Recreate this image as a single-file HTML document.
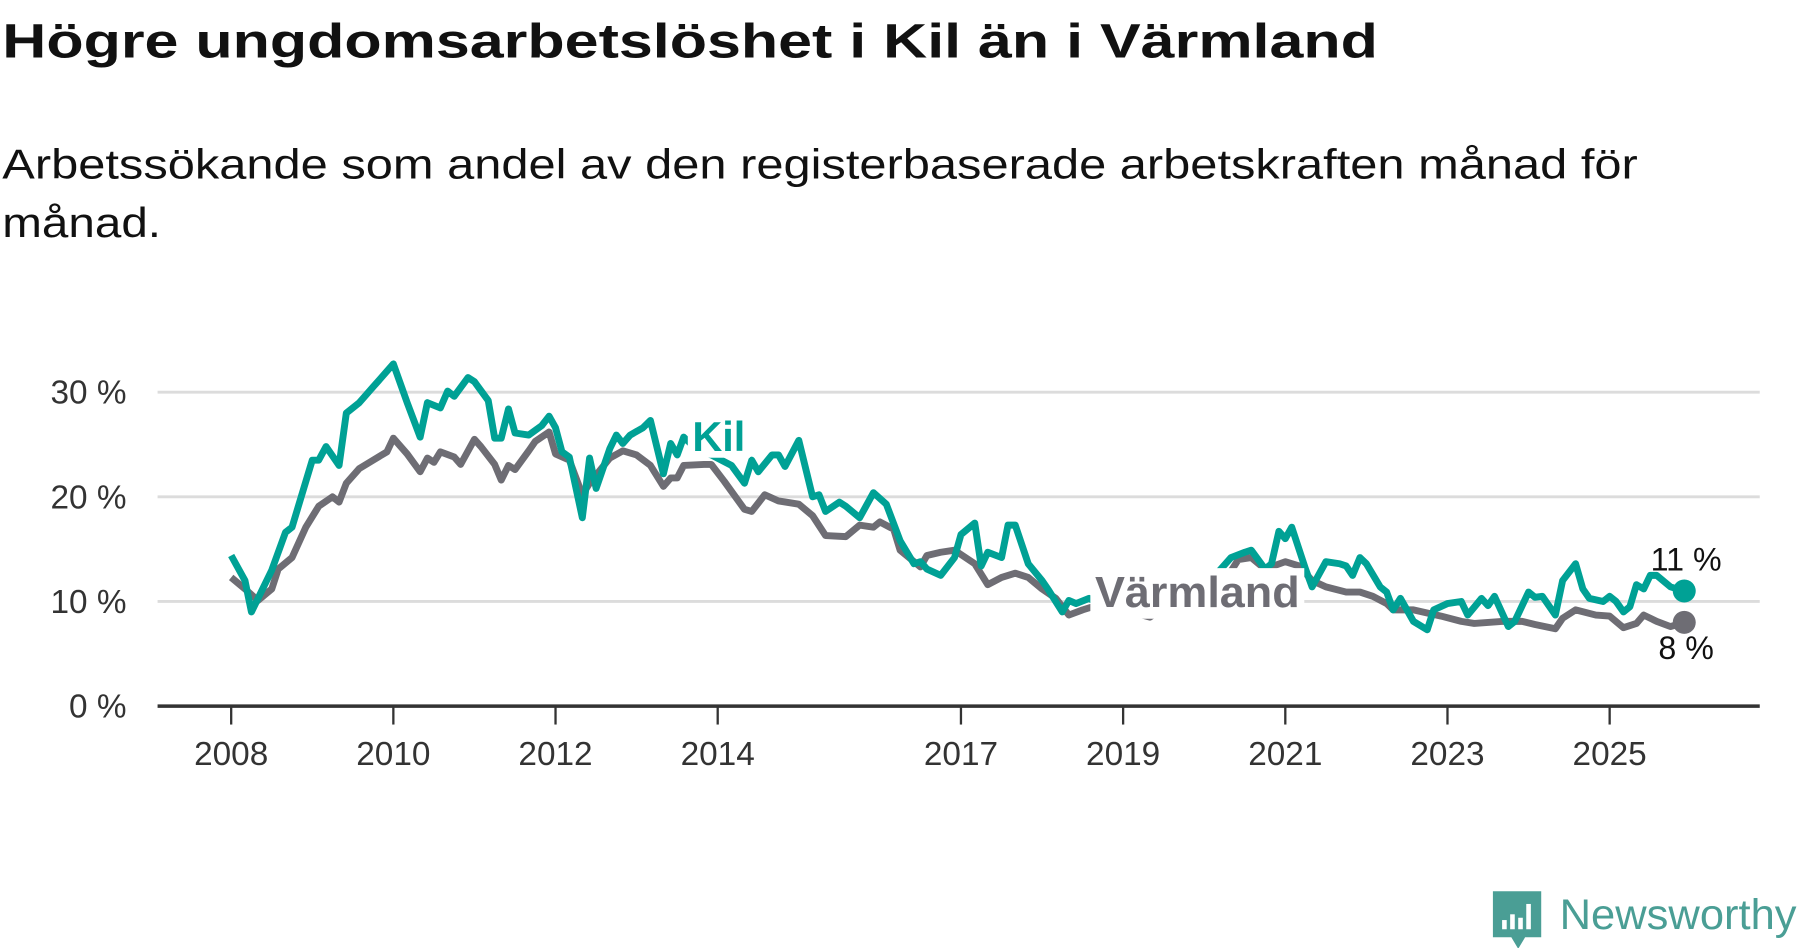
<!DOCTYPE html>
<html><head><meta charset="utf-8"><style>
html,body{margin:0;padding:0;background:#fff;}
svg{display:block;font-family:"Liberation Sans",sans-serif;}
</style></head><body>
<svg id="chart" width="1800" height="948" viewBox="0 0 1565 824.3" preserveAspectRatio="none" xmlns="http://www.w3.org/2000/svg">
<text x="2" y="50" font-size="42" font-weight="bold" fill="#111" textLength="1196" lengthAdjust="spacingAndGlyphs">Högre ungdomsarbetslöshet i Kil än i Värmland</text>
<text x="2" y="155" font-size="36" fill="#111" textLength="1422" lengthAdjust="spacingAndGlyphs">Arbetssökande som andel av den registerbaserade arbetskraften månad för</text>
<text x="2" y="206" font-size="36" fill="#111" textLength="138" lengthAdjust="spacingAndGlyphs">månad.</text>
<g id="grid"></g>
<g id="yaxis"></g>
<g id="xaxis"></g>
<g id="series"></g>
<g id="labels"></g>
<g>
<path d="M1298 775 h42 v40 h-14 l-6 10 l-6 -10 h-16 z" fill="#4a9e95"/>
<rect x="1306" y="800" width="4" height="8" fill="#fff"/><rect x="1313" y="795" width="4" height="13" fill="#fff"/><rect x="1320" y="798" width="4" height="10" fill="#fff"/><rect x="1327" y="786" width="4" height="22" fill="#fff"/>
<text x="1356" y="808" font-size="37" fill="#4a9e95" textLength="206" lengthAdjust="spacingAndGlyphs">Newsworthy</text>
</g>
</svg>
<script>
const yTicks = [0, 10, 20, 30];
const yTickLabels = ["0 %", "10 %", "20 %", "30 %"];
const xTicks = [2008, 2010, 2012, 2014, 2017, 2019, 2021, 2023, 2025];
const kilDates = [2008.00,2008.17,2008.25,2008.5,2008.67,2008.75,2009.0,2009.08,2009.17,2009.33,2009.42,2009.58,2009.75,2009.83,2010.0,2010.17,2010.33,2010.42,2010.58,2010.67,2010.75,2010.92,2011.0,2011.17,2011.25,2011.33,2011.42,2011.5,2011.67,2011.83,2011.92,2012.0,2012.08,2012.17,2012.33,2012.42,2012.5,2012.67,2012.75,2012.83,2012.92,2013.08,2013.17,2013.33,2013.42,2013.5,2013.58,2013.75,2013.92,2014.17,2014.33,2014.42,2014.5,2014.67,2014.75,2014.83,2015.0,2015.17,2015.25,2015.33,2015.5,2015.58,2015.75,2015.92,2016.08,2016.25,2016.42,2016.5,2016.58,2016.75,2016.92,2017.0,2017.17,2017.25,2017.33,2017.5,2017.58,2017.67,2017.83,2018.0,2018.08,2018.25,2018.33,2018.42,2018.58,2018.83,2019.0,2019.17,2019.5,2019.83,2020.08,2020.33,2020.5,2020.58,2020.75,2020.83,2020.92,2021.0,2021.08,2021.25,2021.33,2021.5,2021.67,2021.75,2021.83,2021.92,2022.0,2022.17,2022.25,2022.33,2022.42,2022.58,2022.75,2022.83,2023.0,2023.17,2023.25,2023.42,2023.5,2023.58,2023.75,2023.83,2024.0,2024.08,2024.17,2024.33,2024.42,2024.58,2024.67,2024.75,2024.92,2025.0,2025.08,2025.17,2025.25,2025.33,2025.42,2025.5,2025.58,2025.75,2025.92];
const kilValues = [14.4,12,9.0,13,16.6,17.1,23.5,23.5,24.8,23,28,29,30.5,31.2,32.7,29,25.7,29,28.5,30.1,29.6,31.4,31,29.2,25.6,25.6,28.4,26.1,25.9,26.8,27.7,26.6,24.3,23.8,18,23.7,20.8,24.6,25.9,25.1,25.9,26.6,27.3,22.2,25.1,24,25.7,24.5,24,23,21.3,23.5,22.4,24,24,22.9,25.4,20,20.2,18.6,19.5,19.1,18,20.4,19.3,15.8,13.6,13.8,13.1,12.5,14.2,16.4,17.5,13.4,14.7,14.2,17.3,17.3,13.6,12,11.1,9,10.1,9.8,10.3,9.3,9.8,9.0,9.5,10.5,12,14.2,14.7,14.9,13.1,13.6,16.7,16,17.1,13.1,11.4,13.8,13.6,13.4,12.5,14.2,13.6,11.4,10.9,9.2,10.3,8.1,7.3,9.2,9.8,10,8.7,10.3,9.6,10.5,7.6,8.1,10.9,10.4,10.5,8.7,12,13.6,11.2,10.3,10,10.5,10,9,9.5,11.6,11.2,12.5,12.5,11.4,11];
const varmDates = [2008.0,2008.17,2008.33,2008.5,2008.58,2008.75,2008.92,2009.08,2009.25,2009.33,2009.42,2009.58,2009.75,2009.92,2010.0,2010.17,2010.33,2010.42,2010.5,2010.58,2010.75,2010.83,2011.0,2011.08,2011.25,2011.33,2011.42,2011.5,2011.67,2011.75,2011.92,2012.0,2012.17,2012.33,2012.42,2012.67,2012.83,2013.0,2013.17,2013.33,2013.42,2013.5,2013.58,2013.83,2013.92,2014.08,2014.33,2014.42,2014.58,2014.75,2015.0,2015.17,2015.33,2015.58,2015.75,2015.92,2016.0,2016.17,2016.25,2016.5,2016.58,2016.75,2016.92,2017.17,2017.33,2017.5,2017.67,2017.83,2018.0,2018.17,2018.33,2018.5,2018.67,2018.92,2019.08,2019.33,2019.58,2019.83,2020.08,2020.33,2020.42,2020.58,2020.75,2021.0,2021.17,2021.33,2021.5,2021.75,2021.92,2022.08,2022.25,2022.33,2022.58,2022.75,2022.92,2023.17,2023.33,2023.5,2023.67,2023.92,2024.08,2024.33,2024.42,2024.58,2024.83,2025.0,2025.17,2025.33,2025.42,2025.58,2025.75,2025.92];
const varmValues = [12.3,11.2,10.1,11.2,13.1,14.2,17.1,19.1,20,19.5,21.3,22.7,23.5,24.3,25.6,24.1,22.4,23.7,23.3,24.3,23.8,23.1,25.5,24.8,23.1,21.6,23,22.6,24.4,25.3,26.2,24.1,23.5,20.2,21.3,23.7,24.4,24,23,21,21.8,21.8,23,23.1,23.1,21.5,18.8,18.6,20.2,19.6,19.3,18.2,16.3,16.2,17.3,17.1,17.6,16.9,14.9,13.3,14.4,14.7,14.9,13.6,11.6,12.3,12.7,12.3,11.2,10.3,8.7,9.2,9.6,9.4,9.0,8.5,9.8,11,12.3,12.9,14,14.2,13.1,13.8,13.4,12,11.4,10.9,10.9,10.5,9.8,9.2,9.2,8.9,8.6,8.1,7.9,8,8.1,8.1,7.8,7.4,8.4,9.2,8.7,8.6,7.5,7.9,8.7,8.1,7.6,8];

const NS = "http://www.w3.org/2000/svg";
const X0 = 137, X1 = 1530;
function xS(t){ return 201 + (t - 2008) * 70.5; }
function yS(v){ return 614 - v * 9.1; }
function mk(tag, attrs, parent){ const e = document.createElementNS(NS, tag); for (const k in attrs) e.setAttribute(k, attrs[k]); parent.appendChild(e); return e; }

const grid = document.getElementById('grid'), yax = document.getElementById('yaxis'), xax = document.getElementById('xaxis');
yTicks.forEach((v, i) => {
  if (v > 0) {
    const g = mk('line', {x1: X0, x2: X1, y1: yS(v), y2: yS(v), stroke: '#dcdcdc', 'stroke-width': 2.5}, grid);
    
    
  }
  const t = mk('text', {x: 110, y: yS(v) + 10, 'text-anchor': 'end', 'font-size': 29, fill: '#333'}, yax);
  t.textContent = yTickLabels[i];
  
  
});
const base = mk('line', {x1: X0, x2: X1, y1: yS(0), y2: yS(0), stroke: '#333', 'stroke-width': 3}, xax);


xTicks.forEach(yr => {
  const tk = mk('line', {x1: xS(yr), x2: xS(yr), y1: yS(0), y2: yS(0) + 16, stroke: '#333', 'stroke-width': 2}, xax);
  
  
  const t = mk('text', {x: xS(yr), y: 665, 'text-anchor': 'middle', 'font-size': 29, fill: '#333'}, xax);
  t.textContent = yr;
  
  
});

const ser = document.getElementById('series');
function drawLine(dates, vals, color, name){
  const d = dates.map((t, i) => (i ? 'L' : 'M') + xS(t).toFixed(1) + ' ' + yS(vals[i]).toFixed(1)).join(' ');
  const p = mk('path', {d: d, fill: 'none', stroke: color, 'stroke-width': 6, 'stroke-linejoin': 'round'}, ser);
  
  
  const n = dates.length - 1;
  const c = mk('circle', {cx: xS(dates[n]), cy: yS(vals[n]), r: 10, fill: color}, ser);
  
  
}
drawLine(varmDates, varmValues, '#6e6d74', 'varmland');
drawLine(kilDates, kilValues, '#00a195', 'kil');

const lab = document.getElementById('labels');
mk('rect', {x: 598, y: 358, width: 54, height: 40, fill: '#fff'}, lab);
mk('rect', {x: 948, y: 494, width: 186, height: 44, fill: '#fff'}, lab);
const kl = mk('text', {x: 602, y: 392, 'font-size': 36, 'font-weight': 'bold', fill: '#00a195', textLength: 46, lengthAdjust: 'spacingAndGlyphs'}, lab);
kl.textContent = 'Kil';


const vl = mk('text', {x: 952, y: 528, 'font-size': 38, 'font-weight': 'bold', fill: '#6e6d74', textLength: 178, lengthAdjust: 'spacingAndGlyphs'}, lab);
vl.textContent = 'Värmland';


const kv = mk('text', {x: 1466, y: 496, 'text-anchor': 'middle', 'font-size': 28, fill: '#111'}, lab);
kv.textContent = kilValues[kilValues.length - 1].toFixed(0) + ' %';


const vv = mk('text', {x: 1466, y: 573, 'text-anchor': 'middle', 'font-size': 28, fill: '#111'}, lab);
vv.textContent = varmValues[varmValues.length - 1].toFixed(0) + ' %';


</script>
</body></html>
